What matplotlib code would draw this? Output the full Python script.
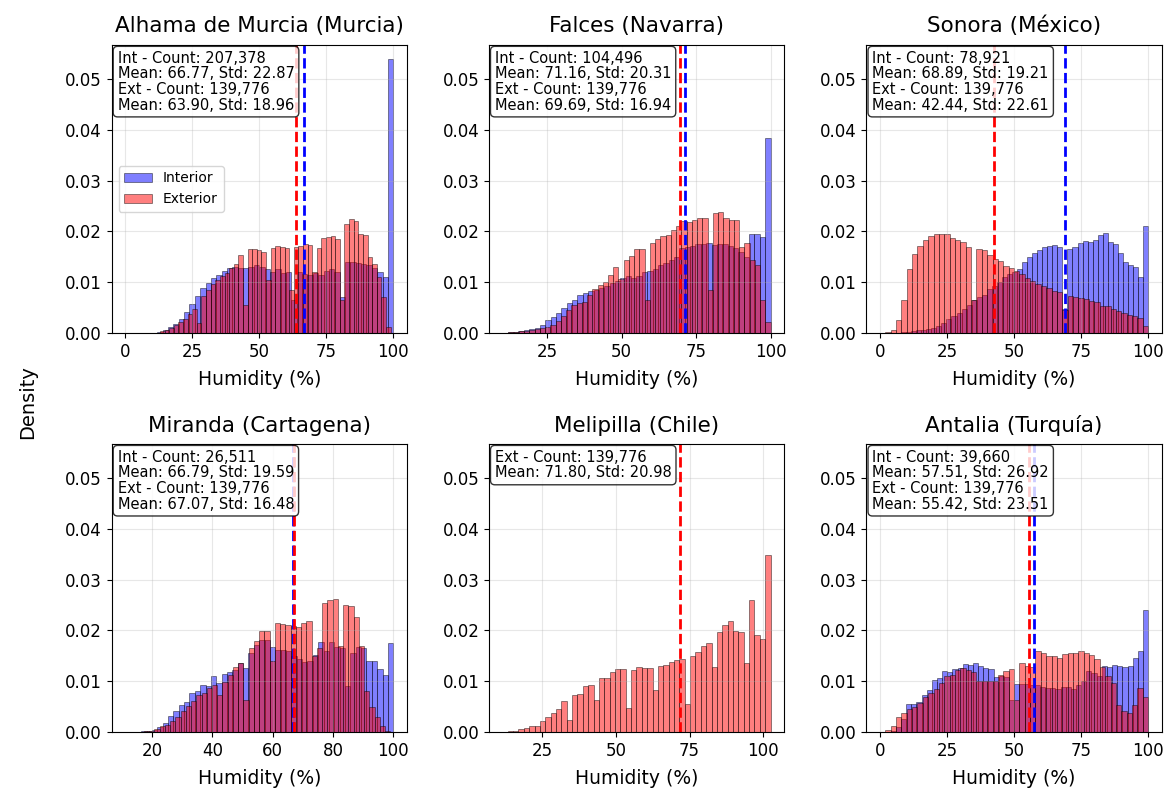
import numpy as np
import matplotlib
matplotlib.use("Agg")
from matplotlib import pyplot as plt
from matplotlib.ticker import MultipleLocator

# station names, one panel per station
titles = ["Alhama de Murcia (Murcia)", "Falces (Navarra)", "Sonora (México)",
          "Miranda (Cartagena)", "Melipilla (Chile)", "Antalia (Turquía)"]

# summary stats (None = no interior sensor)
int_count = [207378, 104496, 78921, 26511, None, 39660]
int_mean = [66.77, 71.16, 68.89, 66.79, None, 57.51]
int_std = [22.87, 20.31, 19.21, 19.59, None, 26.92]
ext_count = [139776, 139776, 139776, 139776, 139776, 139776]
ext_mean = [63.90, 69.69, 42.44, 67.07, 71.80, 55.42]
ext_std = [18.96, 16.94, 22.61, 16.48, 20.98, 23.51]

# histogram ranges (50 bins each)
int_range = [(0, 100), (10, 100), (6, 100), (11, 100), None, (4, 100)]
ext_range = [(13, 99), (12, 100), (0, 100), (12, 99), (11.5, 102.5), (0, 100)]
xtick_step = [25, 25, 25, 20, 25, 25]

# densities per bin
int_alhama = [0, 0, 0, 0, 0, 0, 0.0002, 0.0006, 0.0012, 0.0018,
              0.0028, 0.0042, 0.0057, 0.0072, 0.0088, 0.0098, 0.0108, 0.0115, 0.0122, 0.0127,
              0.0130, 0.0128, 0.0128, 0.0130, 0.0133, 0.0130, 0.0125, 0.0120, 0.0126, 0.0118,
              0.0120, 0.0065, 0.0120, 0.0117, 0.0115, 0.0118, 0.0115, 0.0122, 0.0125, 0.0120,
              0.0070, 0.0140, 0.0140, 0.0138, 0.0136, 0.0133, 0.0128, 0.0120, 0.0110, 0.0540]
ext_alhama = [0.0003, 0.0006, 0.0010, 0.0015, 0.0021, 0.0028, 0.0037, 0.0048, 0.0020, 0.0072,
              0.0085, 0.0097, 0.0105, 0.0112, 0.0118, 0.0128, 0.0136, 0.0153, 0.0055, 0.0165,
              0.0166, 0.0164, 0.0160, 0.0105, 0.0168, 0.0172, 0.0170, 0.0168, 0.0085, 0.0170,
              0.0172, 0.0175, 0.0174, 0.0120, 0.0168, 0.0186, 0.0188, 0.0190, 0.0185, 0.0065,
              0.0215, 0.0225, 0.0220, 0.0195, 0.0193, 0.0150, 0.0135, 0.0110, 0.0070, 0.0012]

int_falces = [0.0000, 0.0001, 0.0002, 0.0003, 0.0005, 0.0007, 0.0009, 0.0016, 0.0025, 0.0032,
              0.0040, 0.0050, 0.0058, 0.0065, 0.0075, 0.0079, 0.0082, 0.0084, 0.0088, 0.0093,
              0.0098, 0.0102, 0.0108, 0.0112, 0.0108, 0.0113, 0.0120, 0.0122, 0.0125, 0.0133,
              0.0138, 0.0143, 0.0150, 0.0168, 0.0170, 0.0172, 0.0175, 0.0176, 0.0178, 0.0174,
              0.0176, 0.0175, 0.0172, 0.0168, 0.0160, 0.0150, 0.0195, 0.0195, 0.0188, 0.0383]
ext_falces = [0.0001, 0.0002, 0.0003, 0.0004, 0.0005, 0.0007, 0.0009, 0.0012, 0.0016, 0.0023,
              0.0033, 0.0045, 0.0055, 0.0058, 0.0061, 0.0074, 0.0087, 0.0095, 0.0100, 0.0114,
              0.0130, 0.0107, 0.0143, 0.0152, 0.0165, 0.0165, 0.0064, 0.0178, 0.0185, 0.0191,
              0.0193, 0.0203, 0.0210, 0.0221, 0.0218, 0.0222, 0.0226, 0.0227, 0.0084, 0.0237,
              0.0238, 0.0227, 0.0222, 0.0222, 0.0169, 0.0178, 0.0143, 0.0134, 0.0064, 0.0022]

int_sonora = [0.0000, 0.0001, 0.0002, 0.0003, 0.0005, 0.0006, 0.0008, 0.0010, 0.0014, 0.0020,
              0.0027, 0.0033, 0.0040, 0.0048, 0.0056, 0.0064, 0.0070, 0.0075, 0.0086, 0.0093,
              0.0100, 0.0110, 0.0116, 0.0120, 0.0126, 0.0140, 0.0150, 0.0158, 0.0164, 0.0170,
              0.0171, 0.0173, 0.0169, 0.0048, 0.0166, 0.0169, 0.0178, 0.0181, 0.0179, 0.0183,
              0.0192, 0.0197, 0.0180, 0.0175, 0.0158, 0.0140, 0.0133, 0.0130, 0.0110, 0.0210]
ext_sonora = [0.0000, 0.0002, 0.0006, 0.0025, 0.0065, 0.0125, 0.0155, 0.0172, 0.0183, 0.0191,
              0.0194, 0.0195, 0.0194, 0.0187, 0.0184, 0.0179, 0.0169, 0.0065, 0.0166, 0.0163,
              0.0154, 0.0146, 0.0142, 0.0131, 0.0127, 0.0122, 0.0116, 0.0108, 0.0103, 0.0097,
              0.0093, 0.0089, 0.0083, 0.0080, 0.0045, 0.0072, 0.0070, 0.0068, 0.0066, 0.0062,
              0.0060, 0.0054, 0.0053, 0.0047, 0.0043, 0.0040, 0.0036, 0.0033, 0.0030, 0.0014]

int_miranda = [0.0000, 0.0001, 0.0001, 0.0002, 0.0002, 0.0004, 0.0010, 0.0017, 0.0032, 0.0042,
               0.0054, 0.0059, 0.0077, 0.0080, 0.0093, 0.0091, 0.0111, 0.0097, 0.0114, 0.0118,
               0.0122, 0.0136, 0.0126, 0.0155, 0.0172, 0.0182, 0.0182, 0.0168, 0.0162, 0.0162,
               0.0160, 0.0150, 0.0143, 0.0138, 0.0140, 0.0152, 0.0178, 0.0160, 0.0178, 0.0168,
               0.0165, 0.0090, 0.0155, 0.0168, 0.0165, 0.0140, 0.0140, 0.0125, 0.0113, 0.0176]
ext_miranda = [0.0000, 0.0001, 0.0001, 0.0002, 0.0003, 0.0006, 0.0011, 0.0014, 0.0022, 0.0030,
               0.0042, 0.0051, 0.0062, 0.0072, 0.0077, 0.0086, 0.0092, 0.0072, 0.0098, 0.0112,
               0.0128, 0.0135, 0.0064, 0.0165, 0.0180, 0.0198, 0.0198, 0.0140, 0.0214, 0.0212,
               0.0210, 0.0208, 0.0206, 0.0214, 0.0218, 0.0150, 0.0165, 0.0255, 0.0260, 0.0261,
               0.0170, 0.0250, 0.0248, 0.0226, 0.0170, 0.0080, 0.0050, 0.0030, 0.0012, 0.0003]

ext_melipilla = [0.0001, 0.0002, 0.0003, 0.0006, 0.0008, 0.0011, 0.0011, 0.0021, 0.0029, 0.0037,
                 0.0045, 0.0061, 0.0023, 0.0072, 0.0074, 0.0091, 0.0093, 0.0064, 0.0107, 0.0107,
                 0.0119, 0.0125, 0.0125, 0.0048, 0.0122, 0.0128, 0.0126, 0.0127, 0.0083, 0.0130,
                 0.0132, 0.0137, 0.0141, 0.0144, 0.0056, 0.0149, 0.0157, 0.0170, 0.0175, 0.0128,
                 0.0197, 0.0210, 0.0219, 0.0199, 0.0197, 0.0136, 0.0260, 0.0192, 0.0184, 0.0348]

int_antalia = [0.0002, 0.0010, 0.0025, 0.0055, 0.0055, 0.0060, 0.0073, 0.0083, 0.0102, 0.0106,
               0.0120, 0.0118, 0.0124, 0.0126, 0.0133, 0.0131, 0.0136, 0.0130, 0.0126, 0.0125,
               0.0108, 0.0110, 0.0108, 0.0063, 0.0095, 0.0095, 0.0094, 0.0093, 0.0093, 0.0088,
               0.0087, 0.0086, 0.0084, 0.0088, 0.0089, 0.0084, 0.0093, 0.0100, 0.0120, 0.0117,
               0.0110, 0.0130, 0.0128, 0.0131, 0.0130, 0.0129, 0.0130, 0.0145, 0.0159, 0.0240]
ext_antalia = [0.0001, 0.0004, 0.0012, 0.0030, 0.0038, 0.0045, 0.0050, 0.0058, 0.0068, 0.0076,
               0.0084, 0.0096, 0.0110, 0.0113, 0.0123, 0.0126, 0.0122, 0.0118, 0.0100, 0.0100,
               0.0100, 0.0100, 0.0113, 0.0120, 0.0124, 0.0063, 0.0136, 0.0130, 0.0128, 0.0160,
               0.0156, 0.0149, 0.0149, 0.0146, 0.0154, 0.0156, 0.0156, 0.0160, 0.0156, 0.0152,
               0.0143, 0.0128, 0.0110, 0.0096, 0.0053, 0.0042, 0.0038, 0.0053, 0.0086, 0.0069]

int_dens = [int_alhama, int_falces, int_sonora, int_miranda, None, int_antalia]
ext_dens = [ext_alhama, ext_falces, ext_sonora, ext_miranda, ext_melipilla, ext_antalia]

fig = plt.figure(figsize=(11.67, 7.89), dpi=100)
lefts = [0.0957, 0.419, 0.7425]
bottoms = [0.578, 0.0722]
w, h = 0.2528, 0.365

for k in range(6):
    ax = fig.add_axes([lefts[k % 3], bottoms[k // 3], w, h])

    if int_dens[k] is not None:
        edges = np.linspace(int_range[k][0], int_range[k][1], 51)
        centers = (edges[:-1] + edges[1:]) / 2
        ax.hist(centers, bins=edges, weights=int_dens[k], color='blue', alpha=0.5,
                edgecolor='black', linewidth=0.6, label='Interior')
    edges = np.linspace(ext_range[k][0], ext_range[k][1], 51)
    centers = (edges[:-1] + edges[1:]) / 2
    ax.hist(centers, bins=edges, weights=ext_dens[k], color='red', alpha=0.5,
            edgecolor='black', linewidth=0.6, label='Exterior')

    if int_mean[k] is not None:
        ax.axvline(int_mean[k], color='blue', linestyle='--', linewidth=2)
    ax.axvline(ext_mean[k], color='red', linestyle='--', linewidth=2)

    stats = ""
    if int_count[k] is not None:
        stats += f"Int - Count: {int_count[k]:,}\nMean: {int_mean[k]:.2f}, Std: {int_std[k]:.2f}\n"
    stats += f"Ext - Count: {ext_count[k]:,}\nMean: {ext_mean[k]:.2f}, Std: {ext_std[k]:.2f}"
    ax.text(0.02, 0.98, stats, transform=ax.transAxes, va='top', fontsize=10.5,
            linespacing=1.05,
            bbox=dict(boxstyle='round', facecolor='white', alpha=0.8))

    ax.set_ylim(0, 0.0567)
    ax.xaxis.set_major_locator(MultipleLocator(xtick_step[k]))
    ax.set_title(titles[k], fontsize=15.5, pad=9)
    ax.set_xlabel("Humidity (%)", fontsize=13.5, labelpad=7)
    ax.tick_params(labelsize=12)
    ax.grid(True, alpha=0.3)
    if k == 0:
        ax.legend(loc='center left', fontsize=10)

fig.text(0.024, 0.49, "Density", rotation=90, va='center', ha='center', fontsize=14)

fig.savefig("out.png", dpi=100)
